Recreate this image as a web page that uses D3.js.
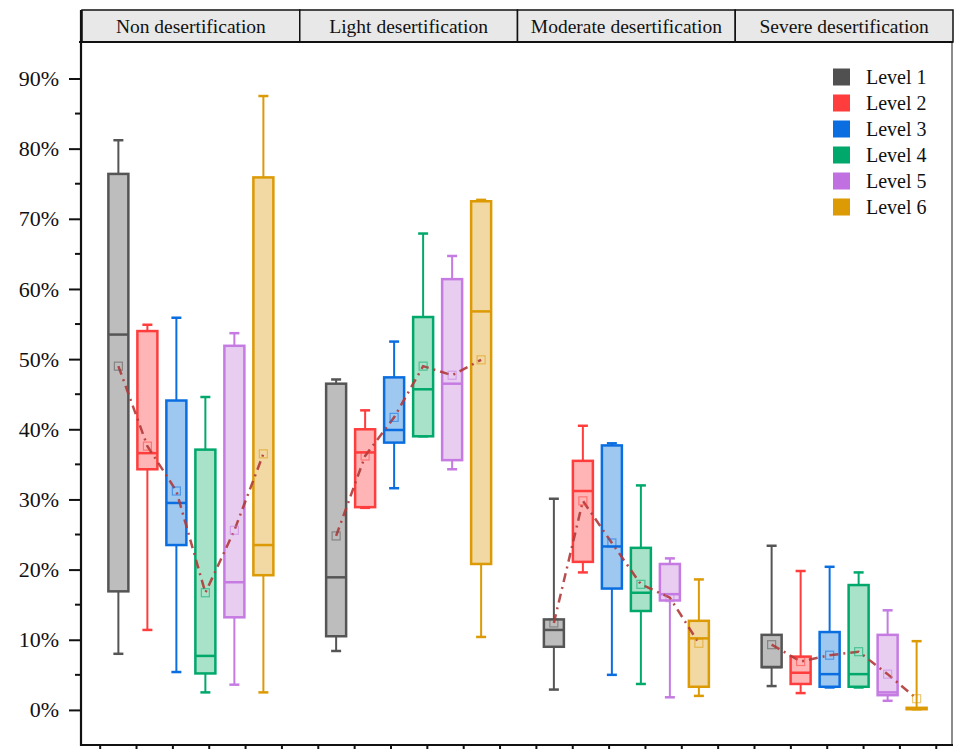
<!DOCTYPE html>
<html>
<head>
<meta charset="utf-8">
<script src="https://cdn.jsdelivr.net/npm/d3@7/dist/d3.min.js"></script>
<style>
  html, body { margin: 0; padding: 0; background: #fff; }
  svg { display: block; font-family: "Liberation Serif", "Times New Roman", serif; }
</style>
</head>
<body>
<svg id="chart" width="955" height="749"></svg>
<script>
// Desertification classes (facets) and levels (boxes within each facet)
const panels = ["Non desertification", "Light desertification", "Moderate desertification", "Severe desertification"];
const levels = ["Level 1", "Level 2", "Level 3", "Level 4", "Level 5", "Level 6"];

// Box statistics in percent, one row per facet, one value per level
const whiskerHigh = [
  [81.2, 54.9, 55.9, 44.6, 53.7, 87.5],
  [47.1, 42.7, 52.5, 67.9, 64.7, 72.7],
  [30.1, 40.5, 38.0, 32.0, 21.6, 18.6],
  [23.4, 19.8, 20.4, 19.6, 14.2, 9.8]
];
const q3 = [
  [76.4, 54.0, 44.1, 37.1, 51.9, 75.9],
  [46.5, 40.0, 47.4, 56.0, 61.4, 72.5],
  [12.9, 35.5, 37.7, 23.1, 20.8, 12.7],
  [10.7, 7.6, 11.1, 17.8, 10.7, 0.3]
];
const median = [
  [53.5, 36.6, 29.5, 7.7, 18.2, 23.5],
  [18.9, 36.7, 39.9, 45.7, 46.5, 56.8],
  [11.4, 31.2, 23.3, 16.7, 16.5, 10.2],
  [6.1, 5.3, 5.1, 5.1, 2.5, 0.2]
];
const q1 = [
  [16.9, 34.3, 23.5, 5.2, 13.2, 19.2],
  [10.5, 28.9, 38.1, 39.0, 35.6, 20.8],
  [9.0, 21.1, 17.3, 14.1, 15.6, 3.3],
  [6.1, 3.7, 3.3, 3.3, 2.1, 0.1]
];
const whiskerLow = [
  [8.0, 11.4, 5.4, 2.5, 3.6, 2.5],
  [8.4, 28.8, 31.6, 39.0, 34.3, 10.4],
  [2.9, 19.6, 5.0, 3.7, 1.8, 2.0],
  [3.4, 2.4, 3.2, 3.2, 1.3, 0.1]
];
const means = [
  [49.0, 37.6, 31.2, 16.7, 25.6, 36.5],
  [24.8, 36.2, 41.7, 49.0, 47.7, 49.9],
  [12.4, 29.8, 23.8, 17.9, 16.0, 9.5],
  [9.3, 6.9, 7.8, 8.3, 5.1, 1.6]
];
const yTicks = [0, 10, 20, 30, 40, 50, 60, 70, 80, 90];

const strokeColors = ["#555555", "#ff3d3d", "#0a6ee0", "#00a86b", "#c57be2", "#dc9a05"];
const fillColors   = ["#bdbdbd", "#ffb5b5", "#9fc8f0", "#a8e2c8", "#e8cdf1", "#f2d8a2"];
const legendColors = ["#505050", "#ff3d3d", "#0a6ee0", "#00a86b", "#c070e0", "#dc9a05"];

const svg = d3.select("#chart");

const plotLeft = 82, plotRight = 953, plotTop = 42, headerTop = 10, plotBottom = 745;

const fx = d3.scaleBand().domain(panels).range([plotLeft, plotRight]).padding(0);
const inner = d3.scalePoint().domain(levels).range([-72.5, 72.5]);
const y = d3.scaleLinear().domain([-5, 95.2]).range([plotBottom, plotTop]);

const boxW = 20, capW = 10;

// Facet headers
const header = svg.append("g");
header.selectAll("rect").data(panels).join("rect")
  .attr("x", d => fx(d)).attr("y", headerTop)
  .attr("width", fx.bandwidth()).attr("height", plotTop - headerTop)
  .attr("fill", "#e8e8e8").attr("stroke", "#111").attr("stroke-width", 1.5);
header.selectAll("text").data(panels).join("text")
  .attr("x", d => fx(d) + fx.bandwidth() / 2).attr("y", 33)
  .attr("text-anchor", "middle").attr("font-size", 19.5).attr("fill", "#111")
  .text(d => d);

// Frame: right border and header base line
svg.append("line").attr("x1", plotRight - 1).attr("x2", plotRight - 1).attr("y1", plotTop).attr("y2", plotBottom)
  .attr("stroke", "#666").attr("stroke-width", 1.5);
svg.append("line").attr("x1", plotLeft - 3).attr("x2", plotRight).attr("y1", plotTop).attr("y2", plotTop)
  .attr("stroke", "#111").attr("stroke-width", 2);

// Boxes per facet
panels.forEach((p, pi) => {
  const cx = lv => fx(p) + fx.bandwidth() / 2 + inner(lv);
  const g = svg.append("g");
  const rows = levels.map((lv, i) => ({
    lv, i, x: cx(lv),
    lo: whiskerLow[pi][i], q1: q1[pi][i], med: median[pi][i],
    q3: q3[pi][i], hi: whiskerHigh[pi][i], mean: means[pi][i]
  }));

  const b = g.selectAll("g.box").data(rows).join("g").attr("class", "box");
  // whiskers
  b.append("line").attr("x1", d => d.x).attr("x2", d => d.x)
    .attr("y1", d => y(d.hi)).attr("y2", d => y(d.q3))
    .attr("stroke", d => strokeColors[d.i]).attr("stroke-width", 2);
  b.append("line").attr("x1", d => d.x).attr("x2", d => d.x)
    .attr("y1", d => y(d.q1)).attr("y2", d => y(d.lo))
    .attr("stroke", d => strokeColors[d.i]).attr("stroke-width", 2);
  // caps
  b.append("line").attr("x1", d => d.x - capW / 2).attr("x2", d => d.x + capW / 2)
    .attr("y1", d => y(d.hi)).attr("y2", d => y(d.hi))
    .attr("stroke", d => strokeColors[d.i]).attr("stroke-width", 2.5);
  b.append("line").attr("x1", d => d.x - capW / 2).attr("x2", d => d.x + capW / 2)
    .attr("y1", d => y(d.lo)).attr("y2", d => y(d.lo))
    .attr("stroke", d => strokeColors[d.i]).attr("stroke-width", 2.5);
  // box body
  b.append("rect").attr("x", d => d.x - boxW / 2).attr("width", boxW)
    .attr("y", d => y(d.q3)).attr("height", d => Math.max(0.5, y(d.q1) - y(d.q3)))
    .attr("fill", d => fillColors[d.i]).attr("stroke", d => strokeColors[d.i])
    .attr("stroke-width", 2.5);
  // median
  b.append("line").attr("x1", d => d.x - boxW / 2).attr("x2", d => d.x + boxW / 2)
    .attr("y1", d => y(d.med)).attr("y2", d => y(d.med))
    .attr("stroke", d => strokeColors[d.i]).attr("stroke-width", 2.5);

  // mean connector
  const line = d3.line().x(d => d.x).y(d => y(d.mean));
  g.append("path").datum(rows).attr("d", line)
    .attr("fill", "none").attr("stroke", "#b03a3a").attr("stroke-width", 2.5)
    .attr("stroke-dasharray", "9,5,2,5").attr("opacity", 0.9);

  // mean markers
  g.selectAll("rect.mean").data(rows).join("rect").attr("class", "mean")
    .attr("x", d => d.x - 4).attr("y", d => y(d.mean) - 4)
    .attr("width", 8).attr("height", 8)
    .attr("fill", "none").attr("stroke", d => strokeColors[d.i])
    .attr("stroke-opacity", 0.55).attr("stroke-width", 1.2);
});

// Y axis with minor ticks
const yAxisG = svg.append("g").attr("transform", `translate(${plotLeft - 1},0)`);
yAxisG.append("line").attr("x1", 0).attr("x2", 0).attr("y1", headerTop).attr("y2", plotBottom + 1)
  .attr("stroke", "#111").attr("stroke-width", 2.2);
yAxisG.call(d3.axisLeft(y).tickValues(yTicks).tickSize(12).tickFormat(d => d + "%"))
  .call(g => g.select(".domain").remove())
  .call(g => g.selectAll(".tick line").attr("stroke", "#111").attr("stroke-width", 2))
  .call(g => g.selectAll(".tick text").attr("font-size", 22)
    .attr("font-family", "Liberation Serif, serif").attr("fill", "#111").attr("x", -22));
const minor = d3.range(5, 95, 10);
yAxisG.selectAll("line.minor").data(minor).join("line").attr("class", "minor")
  .attr("x1", -6).attr("x2", 0).attr("y1", d => y(d)).attr("y2", d => y(d))
  .attr("stroke", "#111").attr("stroke-width", 2);

// Bottom axis with category ticks
const xt = d3.scaleLinear().domain([0, 24]).range([plotLeft, plotRight]);
const xAxisG = svg.append("g").attr("transform", `translate(0,${plotBottom})`);
xAxisG.append("line").attr("x1", plotLeft - 2).attr("x2", plotRight).attr("y1", 0).attr("y2", 0)
  .attr("stroke", "#111").attr("stroke-width", 2.2);
xAxisG.selectAll("line.t").data(d3.range(24).map(k => k + 0.5)).join("line").attr("class", "t")
  .attr("x1", d => xt(d) + 0.06 * d).attr("x2", d => xt(d) + 0.06 * d).attr("y1", 0).attr("y2", 8)
  .attr("stroke", "#111").attr("stroke-width", 2);

// Legend
const lg = svg.append("g").attr("transform", "translate(833,77)");
const items = lg.selectAll("g").data(levels).join("g")
  .attr("transform", (d, i) => `translate(0,${i * 26})`);
items.append("rect").attr("x", 0).attr("y", -8.5).attr("width", 17).attr("height", 17)
  .attr("fill", (d, i) => legendColors[i]);
items.append("text").attr("x", 33).attr("y", 7).attr("font-size", 20).attr("fill", "#111")
  .text(d => d);
</script>
</body>
</html>
